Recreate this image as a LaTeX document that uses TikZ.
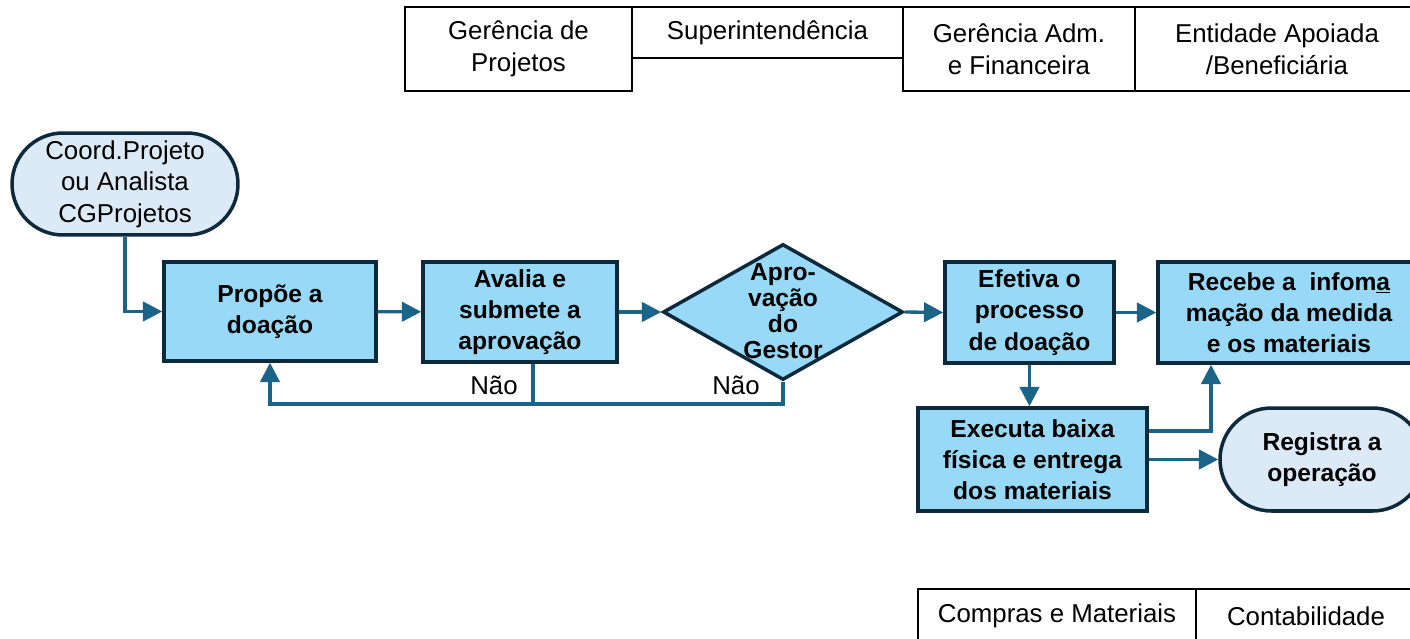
\documentclass[tikz,border=0pt]{standalone}
\usepackage{fontspec}
\setmainfont{Liberation Sans}
\usetikzlibrary{shapes.geometric,shapes.misc,arrows.meta}
\definecolor{boxfill}{HTML}{97D9F6}
\definecolor{termfill}{HTML}{DCEAF7}
\definecolor{edgenavy}{HTML}{0D2A3C}
\definecolor{flowblue}{HTML}{1C6388}
\tikzset{
  cell/.style={draw=black,line width=0.8pt,inner sep=0pt,align=center,font=\fontsize{14.7}{18}\selectfont},
  proc/.style={draw=edgenavy,fill=boxfill,line width=2pt,inner sep=0pt,align=center,font=\fontsize{14}{17.8}\selectfont\bfseries},
  term/.style={rounded rectangle,draw=edgenavy,fill=termfill,line width=2pt,inner sep=0pt,align=center},
  flow/.style={draw=flowblue,line width=1.9pt,-{Triangle[length=11pt,width=11pt]}},
  loopline/.style={draw=flowblue,line width=1.9pt}
}
\begin{document}
\begin{tikzpicture}[x=0.02cm,y=-0.02cm]
                \useasboundingbox (0,0) rectangle (1410,639);
                % header cells
                \node[cell,minimum width=4.54cm,minimum height=1.68cm] (gp) at (518.5,49) {Gerência de\\Projetos};
                \node[cell,minimum width=5.42cm,minimum height=1.02cm] (sup) at (767.5,32.5) {Superintendência};
                \node[cell,minimum width=4.64cm,minimum height=1.68cm] (gaf) at (1019,49) {Gerência Adm.\\e Financeira};
                \node[cell,minimum width=5.7cm,minimum height=1.68cm] (ent) at (1277,49) {Entidade Apoiada\\/Beneficiária};
                \node[cell,minimum width=5.56cm,minimum height=1.08cm] (cm) at (1057,616) {Compras e Materiais};
                \node[cell,minimum width=4.4cm,minimum height=1.08cm] (cont) at (1306,616) {Contabilidade};
                % flow
                \node[term,minimum width=4.52cm,minimum height=2.04cm,font=\fontsize{14.7}{17.9}\selectfont] (coord) at (125,184) {Coord.Projeto\\ou Analista\\CGProjetos};
                \node[proc,minimum width=4.24cm,minimum height=1.98cm] (propoe) at (270,311.5) {Propõe a\\doação};
                \node[proc,minimum width=3.88cm,minimum height=2cm] (avalia) at (520,312) {Avalia e\\submete a\\aprovação};
                \node[diamond,draw=edgenavy,fill=boxfill,line width=2pt,inner sep=0pt,minimum width=4.8cm,minimum height=2.72cm] (dia) at (783,312) {};
                \node[align=center,font=\fontsize{14}{14.7}\selectfont\bfseries] (dialabel) at (783,311) {Apro-\\vação\\do\\Gestor};
                \node[proc,minimum width=3.38cm,minimum height=2.02cm] (efetiva) at (1029.5,312.5) {Efetiva o\\processo\\de doação};
                \node[proc,minimum width=5.24cm,minimum height=2.02cm] (recebe) at (1289,312.5) {Recebe a\ \ infom\underline{a}\\mação da medida\\e os materiais};
                \node[proc,minimum width=4.58cm,minimum height=2.06cm] (executa) at (1032.5,459.5) {Executa baixa\\física e entrega\\dos materiais};
                \node[term,minimum width=4.08cm,minimum height=2.06cm,font=\fontsize{14}{17.8}\selectfont\bfseries] (registra) at (1322,459.5) {Registra a\\operação};
                \coordinate (loop) at (783,404);
                \draw[flow] (coord.south) |- (propoe.west);
                \draw[flow] (propoe) -- (avalia);
                \draw[flow] (avalia.east) -- (dia.west);
                \draw[flow] (dia.east) -- (efetiva.west);
                \draw[flow] (efetiva.east) -- (recebe.west);
                \draw[flow] (efetiva.south) -- (efetiva.south |- executa.north);
                \draw[flow] ([yshift=0.57cm]executa.east) -| ([xshift=-1.56cm]recebe.south);
                \draw[flow] (executa.east) -- (registra.west);
                \draw[loopline] ([xshift=0.26cm]avalia.south) -- ([xshift=0.26cm]avalia.south |- loop);
                \draw[flow] (dia.south) -- (loop) -| (propoe.south);
                \node[font=\fontsize{14.7}{18}\selectfont] (nao1) at (494,385) {Não};
                \node[font=\fontsize{14.7}{18}\selectfont] (nao2) at (736,385) {Não};
            \end{tikzpicture}
\end{document}
